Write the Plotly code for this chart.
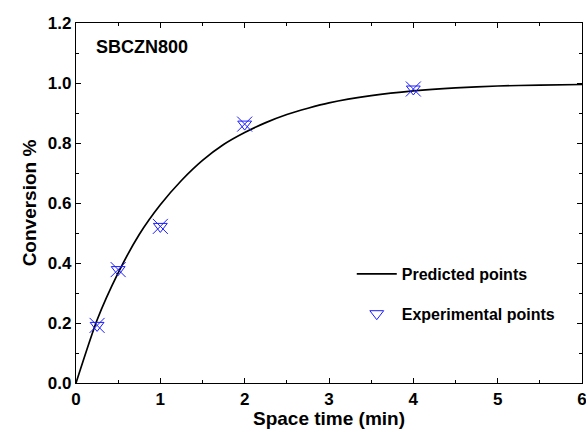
import plotly.graph_objects as go

# Model curve (space time in min vs. conversion)
pred_t = [0, 0.25, 0.5, 0.75, 1.0, 1.25, 1.5, 1.75, 2.0, 2.25, 2.5, 2.75, 3.0, 3.5, 4.0, 4.5, 5.0, 5.5, 6.0]
pred_x = [0, 0.21, 0.367, 0.495, 0.594, 0.675, 0.742, 0.795, 0.835, 0.868, 0.895, 0.916, 0.934, 0.958, 0.974, 0.984, 0.99, 0.993, 0.995]

# Measured conversions
exp_t = [0.25, 0.5, 1.0, 2.0, 4.0]
exp_x = [0.192, 0.378, 0.522, 0.863, 0.98]

x_ticks = [0, 1, 2, 3, 4, 5, 6]
y_ticks = [0.0, 0.2, 0.4, 0.6, 0.8, 1.0, 1.2]

FONT = "Liberation Sans, Arial, sans-serif"
BLUE = "#1a1aff"

fig = go.Figure()
fig.add_trace(go.Scatter(
    x=pred_t, y=pred_x, mode="lines", name="<b>Predicted points</b>",
    line=dict(color="black", width=1.7, shape="spline", smoothing=0.6),
    legendgroup="a",
))
fig.add_trace(go.Scatter(
    x=exp_t, y=exp_x, mode="markers", name="<b>Experimental points</b>",
    marker=dict(symbol="triangle-down-open", size=12, color=BLUE,
                line=dict(color=BLUE, width=1)),
    legendgroup="b",
))
fig.add_trace(go.Scatter(
    x=exp_t, y=exp_x, mode="markers", showlegend=False,
    marker=dict(symbol="x-thin-open", size=15, color=BLUE,
                line=dict(color=BLUE, width=1)),
    legendgroup="b",
))

axis_common = dict(
    showline=True, linecolor="black", linewidth=1.2, mirror="allticks",
    ticks="inside", ticklen=5, tickwidth=1.2, tickcolor="black",
    showgrid=False, zeroline=False, ticklabeloverflow="allow", automargin=False,
    tickfont=dict(family=FONT, size=17, color="black"),
)

fig.update_xaxes(
    range=[0, 6], tickvals=x_ticks, ticktext=[f"<b>{v}</b>" for v in x_ticks],
    minor=dict(dtick=0.5, ticks="inside", ticklen=3, tickcolor="black", tickwidth=1.2),
    title=dict(text="<b>Space time (min)</b>", standoff=4,
               font=dict(family=FONT, size=19, color="black")),
    **axis_common,
)
fig.update_yaxes(
    range=[0, 1.2], tickvals=y_ticks, ticktext=[f"<b>{v:.1f}</b>" for v in y_ticks],
    minor=dict(dtick=0.1, ticks="inside", ticklen=3, tickcolor="black", tickwidth=1.2),
    title=dict(text="<b>Conversion %</b>", standoff=6,
               font=dict(family=FONT, size=19, color="black")),
    **axis_common,
)

fig.add_annotation(
    x=0.036, y=0.932, xref="paper", yref="paper", xanchor="left", yanchor="middle",
    text="<b>SBCZN800</b>", showarrow=False,
    font=dict(family=FONT, size=18, color="black"),
)

fig.update_layout(
    width=586, height=436,
    margin=dict(l=76, r=4, t=23, b=53),
    paper_bgcolor="white", plot_bgcolor="white",
    legend=dict(
        x=0.545, y=0.35, xanchor="left", yanchor="top",
        bgcolor="rgba(0,0,0,0)", tracegroupgap=16, itemwidth=40,
        font=dict(family=FONT, size=16, color="black"),
    ),
)

fig.write_html("out.html")
